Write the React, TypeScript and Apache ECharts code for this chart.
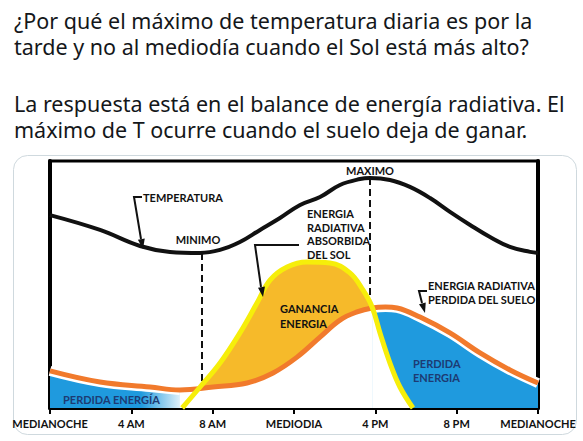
import React, { useEffect, useRef } from "react";
import * as echarts from "echarts";

// ---- Data ----
const tickLabels = ["MEDIANOCHE", "4 AM", "8 AM", "MEDIODIA", "4 PM", "8 PM", "MEDIANOCHE"];

// Temperature curve (hours, relative value 0-100 of the plot height)
const tempHours = [0, 2.46, 4.43, 5.9, 7.38, 8.36, 9.34, 10.33, 11.31, 12.3, 13.28, 14.26, 15.25, 15.74, 16.72, 17.7, 18.69, 19.67, 20.66, 21.64, 22.62, 23.61, 24];
const tempValues = [78.1, 72.1, 65.6, 63.2, 62.8, 64.0, 67.2, 72.1, 76.9, 82.2, 85.4, 90.3, 92.7, 93.1, 92.3, 89.5, 85.0, 79.4, 74.1, 69.2, 65.2, 63.2, 62.8];

// Radiative energy absorbed from the Sun (yellow)
const sunHours = [6.5, 7.38, 8.36, 9.34, 10.18, 10.82, 11.66, 12.64, 13.77, 14.75, 15.39, 15.84, 16.23, 16.72, 17.21, 17.85];
const sunValues = [0, 8.5, 18.2, 30.4, 42.5, 51.8, 57.1, 59.1, 58.7, 54.7, 47.8, 40.9, 30.4, 18.2, 8.5, 0];

// Radiative energy lost by the ground (orange)
const groundHours = [0, 2.46, 4.92, 6.39, 8.02, 9.69, 10.97, 12.15, 13.28, 14.26, 15.1, 15.84, 16.5, 17.07, 18.2, 19.67, 21.15, 22.62, 24];
const groundValues = [15.0, 10.5, 8.5, 7.3, 8.5, 10.1, 14.2, 20.6, 28.7, 35.6, 38.9, 40.5, 40.9, 40.5, 36.8, 30.4, 22.3, 15.4, 10.1];

// Dashed markers (minimum and maximum of temperature)
const dashedHours = [7.45, 15.74];
const dashedTops = [62.8, 93.1];
const dashedBottoms = [8.0, 40.5];

const tweetLines = [
  "¿Por qué el máximo de temperatura diaria es por la",
  "tarde y no al mediodía cuando el Sol está más alto?",
  "La respuesta está en el balance de energía radiativa. El",
  "máximo de T ocurre cuando el suelo deja de ganar.",
];

const zip = (xs: number[], ys: number[]) => xs.map((x, i) => [x, ys[i]]);
const range = (xs: number[], ys: number[], from: number, to: number) =>
  zip(xs, ys).filter((p) => p[0] >= from && p[0] <= to);

const BLUE = "#1f9ade";
const GOLD = "#f6ba2a";
const YELLOW = "#f6ee0a";
const ORANGE = "#f17a2c";
const NAVY = "#1d3b73";
const LBL = "Lato, 'Open Sans', sans-serif";

function txt(x: number, y: number, text: string, extra: any = {}) {
  return {
    type: "text",
    x,
    y,
    z: 100,
    style: {
      text,
      fill: "#111",
      fontFamily: LBL,
      fontWeight: "bold",
      fontSize: 11,
      verticalAlign: "middle",
      ...extra,
    },
  };
}

function arrowHead(tip: number[], from: number[]) {
  const dx = tip[0] - from[0];
  const dy = tip[1] - from[1];
  const len = Math.hypot(dx, dy);
  const ux = dx / len, uy = dy / len;
  const bx = tip[0] - ux * 10, by = tip[1] - uy * 10;
  const px = -uy * 3.5, py = ux * 3.5;
  return {
    type: "polygon",
    z: 100,
    shape: { points: [tip, [bx + px, by + py], [bx - px, by - py]] },
    style: { fill: "#111" },
  };
}

function hookArrow(points: number[][], tip: number[]) {
  return [
    {
      type: "polyline",
      z: 100,
      shape: { points },
      style: { stroke: "#111", lineWidth: 2, fill: null },
    },
    arrowHead(tip, points[points.length - 2]),
  ];
}

export default function App() {
  const ref = useRef<HTMLDivElement>(null);

  useEffect(() => {
    if (!ref.current) return;
    const chart = echarts.init(ref.current, undefined, { renderer: "svg" });

    const tweetY = [20, 46.5, 103, 129.5];
    const graphic: any[] = [
      {
        type: "rect",
        z: 0,
        shape: { x: 13.5, y: 155.5, width: 563, height: 279, r: 14 },
        style: { stroke: "#cfd9de", fill: "none", lineWidth: 1 },
      },
      ...tweetLines.map((t, i) => ({
        type: "text",
        x: 14,
        y: tweetY[i],
        style: {
          text: t,
          fill: "#14171a",
          fontFamily: "'Noto Sans', sans-serif",
          fontSize: 21.5,
          verticalAlign: "middle",
        },
      })),
      txt(143, 197, "TEMPERATURA"),
      ...hookArrow([[142, 197], [134, 197], [141, 239]], [143, 249]),
      txt(198, 239, "MINIMO", { align: "center" }),
      txt(370, 170, "MAXIMO", { align: "center" }),
      txt(307, 213, "ENERGIA"),
      txt(307, 227, "RADIATIVA"),
      txt(307, 240, "ABSORBIDA"),
      txt(307, 254, "DEL SOL"),
      ...hookArrow([[299, 245], [255, 245], [261, 287]], [263, 297]),
      txt(428, 285, "ENERGIA RADIATIVA"),
      txt(428, 299, "PERDIDA DEL SUELO"),
      ...hookArrow([[427, 291], [419, 291], [422, 303]], [425, 313]),
      txt(280, 308, "GANANCIA"),
      txt(280, 323, "ENERGIA"),
      txt(413, 363, "PERDIDA", { fill: NAVY }),
      txt(413, 377, "ENERGIA", { fill: NAVY }),
      txt(63, 399, "PERDIDA ENERGÍA", { fill: NAVY }),
    ];

    const groundAll = zip(groundHours, groundValues);
    const sunAll = zip(sunHours, sunValues);

    chart.setOption({
      animation: false,
      backgroundColor: "#fff",
      grid: {
        left: 50,
        right: 45,
        top: 161,
        bottom: 33,
        show: true,
        borderColor: "#000",
        borderWidth: 3,
      },
      xAxis: {
        type: "value",
        min: 0,
        max: 24,
        interval: 4,
        axisLine: { show: true, onZero: false, lineStyle: { color: "#000", width: 4 } },
        axisTick: { show: true, inside: false, length: 6, lineStyle: { color: "#000", width: 2 } },
        splitLine: { show: false },
        axisLabel: {
          margin: 10,
          showMinLabel: true,
          showMaxLabel: true,
          color: "#111",
          fontFamily: LBL,
          fontWeight: "bold",
          fontSize: 11,
          formatter: (v: number) => tickLabels[Math.round(v / 4)] ?? "",
        },
      },
      yAxis: [
        {
          type: "value",
          min: 0,
          max: 100,
          axisLine: { show: true, lineStyle: { color: "#000", width: 4 } },
          axisTick: { show: false },
          axisLabel: { show: false },
          splitLine: { show: false },
        },
        {
          type: "value",
          position: "right",
          min: 0,
          max: 100,
          axisLine: { show: true, lineStyle: { color: "#000", width: 4 } },
          axisTick: { show: false },
          axisLabel: { show: false },
          splitLine: { show: false },
        },
      ],
      series: [
        {
          name: "gold",
          type: "line",
          data: sunAll,
          smooth: 0.4,
          showSymbol: false,
          lineStyle: { width: 0 },
          areaStyle: { color: GOLD, opacity: 1 },
          z: 1,
          silent: true,
        },
        {
          name: "maskGround",
          type: "line",
          data: groundAll,
          smooth: 0.4,
          showSymbol: false,
          lineStyle: { width: 0 },
          areaStyle: { color: "#fff", opacity: 1 },
          z: 2,
          silent: true,
        },
        {
          name: "blueLeft",
          type: "line",
          data: range(groundHours, groundValues, 0, 6.4),
          smooth: 0.4,
          showSymbol: false,
          lineStyle: { width: 10, color: "#fff" },
          areaStyle: {
            opacity: 1,
            color: new echarts.graphic.LinearGradient(0, 0, 1, 0, [
              { offset: 0, color: BLUE },
              { offset: 0.7, color: BLUE },
              { offset: 1, color: "rgba(31,154,222,0.15)" },
            ]),
          },
          z: 3,
          silent: true,
        },
        {
          name: "blueRight",
          type: "line",
          data: range(groundHours, groundValues, 15.84, 24),
          smooth: 0.4,
          showSymbol: false,
          lineStyle: { width: 10, color: "#fff" },
          areaStyle: { color: BLUE, opacity: 1 },
          z: 3,
          silent: true,
        },
        {
          name: "maskSun",
          type: "line",
          data: range(sunHours, sunValues, 15.84, 24),
          smooth: 0.4,
          showSymbol: false,
          lineStyle: { width: 0 },
          areaStyle: { color: "#fff", opacity: 1 },
          z: 4,
          silent: true,
        },
        {
          name: "Energía perdida por el suelo",
          type: "line",
          data: groundAll,
          smooth: 0.4,
          showSymbol: false,
          lineStyle: { width: 5, color: ORANGE },
          z: 5,
          silent: true,
        },
        {
          name: "Energía absorbida del Sol",
          type: "line",
          data: sunAll,
          smooth: 0.4,
          showSymbol: false,
          lineStyle: { width: 5, color: YELLOW },
          z: 6,
          silent: true,
        },
        {
          name: "Temperatura",
          type: "line",
          data: zip(tempHours, tempValues),
          smooth: 0.4,
          showSymbol: false,
          lineStyle: { width: 4, color: "#111" },
          z: 7,
          silent: true,
          markLine: {
            symbol: "none",
            silent: true,
            label: { show: false },
            lineStyle: { color: "#111", width: 2, type: [7, 4] },
            data: dashedHours.map((h, i) => [
              { coord: [h, dashedTops[i]] },
              { coord: [h, dashedBottoms[i]] },
            ]),
          },
        },
      ],
      graphic,
    });

    return () => chart.dispose();
  }, []);

  return (
    <div
      ref={ref}
      style={{ position: "fixed", left: 0, top: 0, width: 583, height: 441, background: "#fff" }}
    />
  );
}
